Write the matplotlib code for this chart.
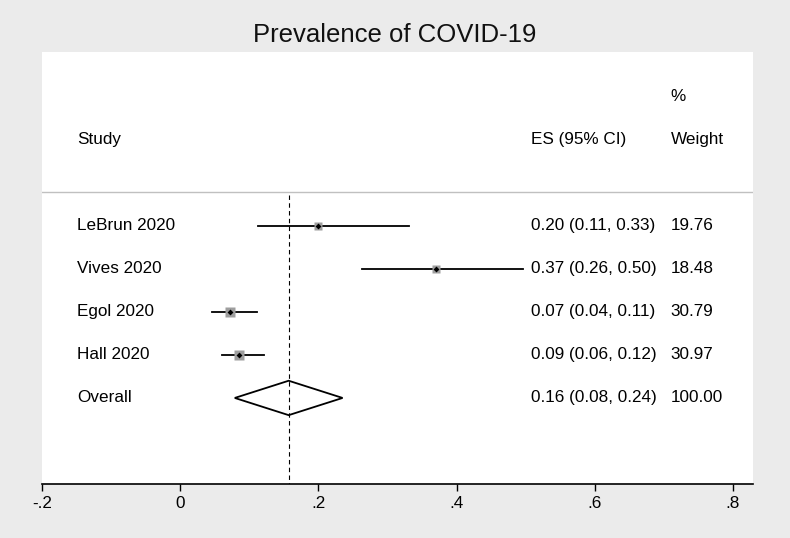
import matplotlib.pyplot as plt
from matplotlib.patches import Polygon

plt.rcParams['font.family'] = ['Liberation Sans', 'DejaVu Sans']

studies = ['LeBrun 2020', 'Vives 2020', 'Egol 2020', 'Hall 2020']
es = [0.20, 0.37, 0.072, 0.085]
lo = [0.113, 0.263, 0.046, 0.060]
hi = [0.331, 0.496, 0.111, 0.121]
es_txt = ['0.20 (0.11, 0.33)', '0.37 (0.26, 0.50)', '0.07 (0.04, 0.11)', '0.09 (0.06, 0.12)']
weights = [19.76, 18.48, 30.79, 30.97]
overall = (0.157, 0.079, 0.235)
overall_txt = '0.16 (0.08, 0.24)'
xticks = [-0.2, 0, 0.2, 0.4, 0.6, 0.8]
xticklabels = ['-.2', '0', '.2', '.4', '.6', '.8']

fig = plt.figure(figsize=(7.9, 5.38), dpi=100, facecolor='#ebebeb')
ax = fig.add_axes([42 / 790, 1 - 484 / 538, (753 - 42) / 790, (484 - 52) / 538])
ax.set_facecolor('white')
ax.set_xlim(-0.2, 0.829)
ax.set_ylim(7.0, -3.04)

fs = 12.3
col_study = -0.149
col_es = 0.508
col_w = 0.710

# header
ax.text(col_study, -1, 'Study', fontsize=fs, va='center')
ax.text(col_es, -1, 'ES (95% CI)', fontsize=fs, va='center')
ax.text(col_w, -2, '%', fontsize=fs, va='center')
ax.text(col_w, -1, 'Weight', fontsize=fs, va='center')
ax.axhline(0.21, color='#c0c0c0', lw=1)

# reference line at overall estimate
ax.plot([overall[0], overall[0]], [0.28, 7.0], color='black', lw=0.8,
        ls=(0, (4, 3)))

for i, name in enumerate(studies):
    y = i + 1
    ax.plot([lo[i], hi[i]], [y, y], color='black', lw=1.3)
    side = 1.7 * weights[i] ** 0.5 * 0.72
    ax.plot(es[i], y, marker='s', ms=side, color='#9e9e9e', mec='none')
    ax.plot(es[i], y, marker='D', ms=3, color='black', mew=0)
    ax.text(col_study, y, name, fontsize=fs, va='center')
    ax.text(col_es, y, es_txt[i], fontsize=fs, va='center')
    ax.text(col_w, y, '%.2f' % weights[i], fontsize=fs, va='center')

y = 5
est, l, h = overall
ax.add_patch(Polygon([[l, y], [est, y - 0.4], [h, y], [est, y + 0.4]],
                     closed=True, fill=False, ec='black', lw=1.3))
ax.text(col_study, y, 'Overall', fontsize=fs, va='center')
ax.text(col_es, y, overall_txt, fontsize=fs, va='center')
ax.text(col_w, y, '100.00', fontsize=fs, va='center')

for s in ['top', 'right', 'left']:
    ax.spines[s].set_visible(False)
ax.spines['bottom'].set_linewidth(1.2)
ax.set_yticks([])
ax.set_xticks(xticks)
ax.set_xticklabels(xticklabels, fontsize=fs)
ax.tick_params(axis='x', length=5, width=1, pad=4)

fig.text(0.5, 1 - 35 / 538, 'Prevalence of COVID-19', fontsize=18.5,
         ha='center', va='center', color='#111111')

fig.savefig('out.png', dpi=100, facecolor=fig.get_facecolor())
